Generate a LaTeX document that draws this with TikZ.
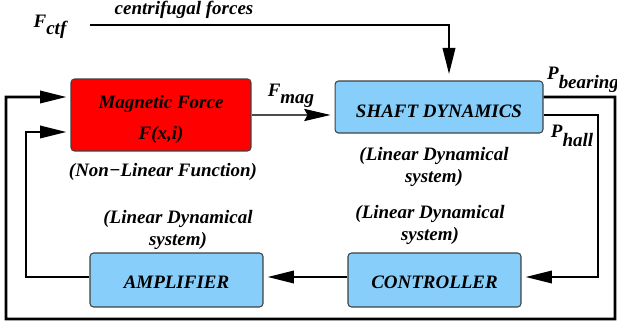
\documentclass[tikz,border=0pt]{standalone}
\usepackage{fontspec}
\setmainfont{Liberation Serif}
\usetikzlibrary{arrows.meta}
\definecolor{shaftblue}{RGB}{135,206,250}
\definecolor{magred}{RGB}{255,0,0}
\tikzset{
  block/.style={draw=black!75, line width=0.6pt, rounded corners=2pt, align=center,
    inner sep=0pt, font=\fontsize{10.8}{13}\selectfont\bfseries\itshape},
  lbl/.style={align=center, inner sep=1pt, font=\fontsize{10.8}{13}\selectfont\bfseries\itshape},
  wire/.style={line width=1.5pt},
  tip/.style={-{Triangle[length=15pt,width=7pt]}},
  thintip/.style={-{Stealth[length=15pt,width=7pt,inset=2pt,color=black]}},
}

\begin{document}
\begin{tikzpicture}[x=0.02cm,y=-0.02cm]
\useasboundingbox (0,0) rectangle (617,327);
\node[block, fill=magred, minimum width=3.6cm, minimum height=1.44cm] (mag) at (161,115) {\rule{0pt}{12.5pt}Magnetic Force\\[4.6pt]F(x,i)};
\node[block, fill=shaftblue, minimum width=4.16cm, minimum height=1.04cm, text height=12.5pt, text depth=0pt] (shaft) at (439,107) {SHAFT DYNAMICS};
\node[block, fill=shaftblue, minimum width=3.46cm, minimum height=1.08cm, text height=10.2pt, text depth=0pt] (amp) at (176.5,280) {AMPLIFIER};
\node[block, fill=shaftblue, minimum width=3.46cm, minimum height=1.08cm, text height=10.2pt, text depth=0pt] (ctrl) at (434.5,280) {CONTROLLER};

\node[lbl] (fctf) at (50,27) {F\raisebox{-4pt}{ctf}};
\node[lbl] (cf) at (184,10) {centrifugal forces};
\node[lbl] (fmag) at (291,96) {F\raisebox{-4pt}{mag}};
\node[lbl] (pbear) at (583,80) {P\raisebox{-5pt}{bearing}};
\node[lbl] (phall) at (572,136) {P\raisebox{-5pt}{hall}};
\node[lbl] (nlf) at (163,172) {(Non−Linear Function)};
\node[lbl] (shaftsys) at (434,167) {(Linear Dynamical\\system)};
\node[lbl] (ampsys) at (178,230) {(Linear Dynamical\\system)};
\node[lbl] (ctrlsys) at (430,225) {(Linear Dynamical\\system)};

\coordinate (cfin) at (90,25);
\coordinate (ne) at (615,97);
\coordinate (se) at (615,319);
\coordinate (sw) at (6,319);
\coordinate (nw) at (6,97);
\coordinate (hallc) at (598,277);
\coordinate (ampc) at (26,132);

\draw[wire, tip, shorten >=3.5pt] (cfin) -| ([xshift=0.2cm]shaft.north);
\draw[black!70, line width=0.6pt, thintip, shorten >=2.3pt] (mag.east) -- (shaft.west |- mag.east);
\draw[wire, tip, shorten >=2.3pt] ([yshift=0.2cm]shaft.east) -- (ne) -- (se) -- (sw) -- (nw) -- (nw -| mag.west);
\draw[wire, tip, shorten >=2.3pt] ([yshift=-0.16cm]shaft.east) -| (hallc) -- (hallc -| ctrl.east);
\draw[wire, tip, shorten >=2.3pt] ([yshift=0.06cm]ctrl.west) -- ([yshift=0.06cm]amp.east);
\draw[wire, tip, shorten >=2.3pt] ([yshift=0.06cm]amp.west) -| (ampc) -- (ampc -| mag.west);
\end{tikzpicture}
\end{document}
